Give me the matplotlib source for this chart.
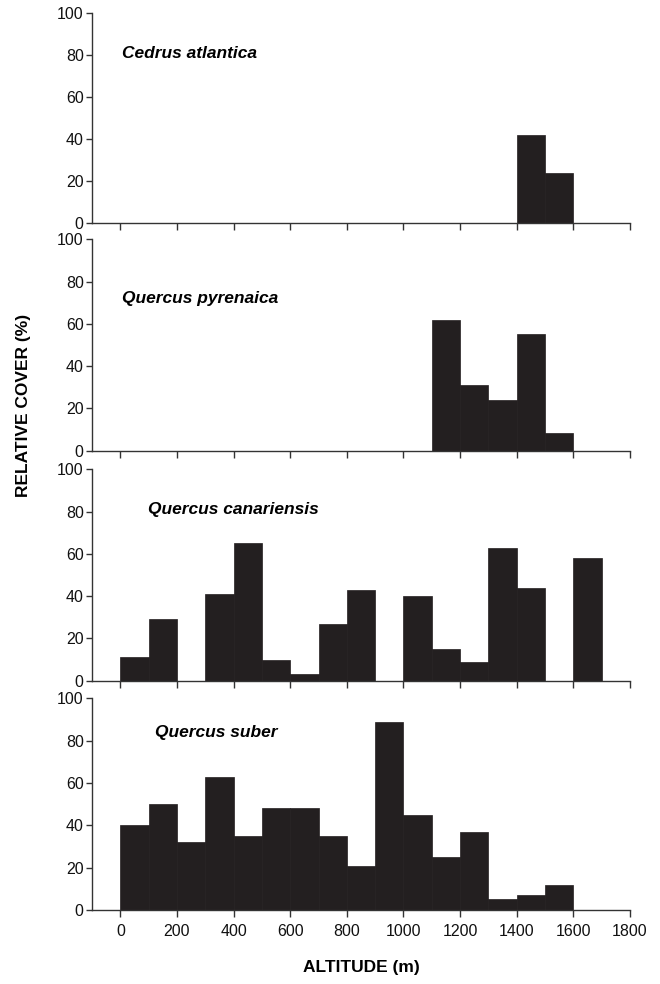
import numpy as np
import matplotlib
matplotlib.use('Agg')
import matplotlib.pyplot as plt

plt.rcParams['font.family'] = ['Liberation Sans', 'DejaVu Sans']

# limites inferiores de cada clase de altitud (m), ancho 100
altitud = np.arange(0, 1700, 100)

especies = ['Cedrus atlantica', 'Quercus pyrenaica', 'Quercus canariensis', 'Quercus suber']

cedrus = [0, 0, 0, 0, 0, 0, 0, 0, 0, 0, 0, 0, 0, 0, 42, 24, 0]
pyrenaica = [0, 0, 0, 0, 0, 0, 0, 0, 0, 0, 0, 62, 31, 24, 55, 8.5, 0]
canariensis = [11, 29, 0, 41, 65, 10, 3, 27, 43, 0, 40, 15, 9, 63, 44, 0, 58]
suber = [40, 50, 32, 63, 35, 48, 48, 35, 21, 89, 45, 25, 37, 5, 7, 12, 0]

valores = [cedrus, pyrenaica, canariensis, suber]

# posicion de las etiquetas de especie (x, y en datos)
etiqueta_pos = [(5, 81), (5, 72), (98, 81), (122, 84)]

# posiciones de cada panel [left, bottom, width, height]
paneles = [
    [0.1394, 0.7731, 0.8152, 0.2134],
    [0.1394, 0.5419, 0.8152, 0.2150],
    [0.1394, 0.3082, 0.8152, 0.2148],
    [0.1394, 0.0752, 0.8152, 0.2151],
]

fig = plt.figure(figsize=(6.6, 9.84), dpi=100)

for i in range(4):
    ax = fig.add_axes(paneles[i])
    ax.bar(altitud, valores[i], width=100, align='edge',
           color='#231f20', edgecolor='#231f20', linewidth=0.5)
    ax.set_xlim(-100, 1800)
    ax.set_ylim(0, 100)
    ax.set_xticks(np.arange(0, 1801, 200))
    ax.set_yticks(np.arange(0, 101, 20))
    ax.spines['top'].set_visible(False)
    ax.spines['right'].set_visible(False)
    ax.spines['left'].set_color('#333333')
    ax.spines['bottom'].set_color('#333333')
    ax.spines['left'].set_linewidth(1)
    ax.spines['bottom'].set_linewidth(1)
    ax.tick_params(axis='both', direction='out', length=4, width=1,
                   color='#333333', labelsize=11.5, labelcolor='#111111')
    ax.tick_params(axis='y', pad=2)
    ax.tick_params(axis='x', length=5, pad=5)
    if i < 3:
        ax.set_xticklabels([])
    else:
        ax.set_xlabel('ALTITUDE (m)', fontsize=12.5, fontweight='bold', labelpad=15)
    ax.text(etiqueta_pos[i][0], etiqueta_pos[i][1], especies[i],
            fontsize=12.5, fontweight='bold', fontstyle='italic',
            va='center', ha='left')

fig.text(0.035, 0.588, 'RELATIVE COVER (%)', rotation=90, fontsize=12.5,
         fontweight='bold', ha='center', va='center')

fig.savefig('out.png', dpi=100)
